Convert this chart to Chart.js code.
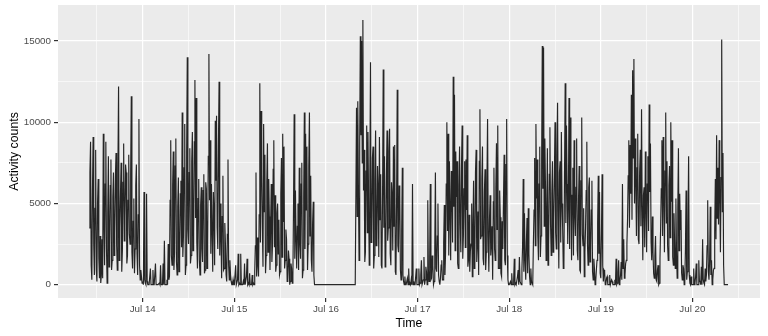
<!DOCTYPE html>
<html>
<head>
<meta charset="utf-8">
<script src="https://cdn.jsdelivr.net/npm/chart.js@4"></script>
<style>
  html, body { margin: 0; padding: 0; background: #fff; }
  #wrap { width: 768px; height: 336px; }
</style>
</head>
<body>
<div id="wrap"><canvas id="activityChart" width="768" height="336"></canvas></div>
<script>
// activity counts, one value every 10 minutes
// Jul 13 starts at 10:00, Jul 20 stops at 09:20
var jul13 = [3500, 6900, 8800, 1200, 300, 5800, 9100, 2400, 600, 4700,
  8300, 900, 200, 5100, 6500, 1600, 400, 3000, 100, 600,
  2800, 400, 9300, 3800, 1200, 6200, 8800, 2200, 100, 4400,
  7900, 1100, 2500, 6100, 7700, 900, 1500, 5400, 6900, 1800,
  3200, 6600, 8100, 2400, 900, 7200, 12200, 1500, 3500, 5600,
  7500, 800, 2100, 6300, 8700, 2700, 4200, 7400, 6900, 1300,
  1800, 5200, 8000, 3100, 2500, 6800, 11600, 2000, 1000, 3900,
  5300, 700, 2200, 6100, 7400, 1900, 600, 4300, 10200, 1200,
  300, 900, 500, 100];
var jul14 = [200, 0, 5700, 300, 100, 0, 5600, 200, 0, 0,
  0, 0, 1000, 0, 0, 0, 900, 0, 0, 0,
  1300, 0, 0, 0, 0, 0, 100, 0, 1200, 0,
  0, 0, 1300, 0, 2700, 0, 0, 0, 300, 0,
  2500, 300, 500, 5200, 8900, 1800, 1200, 6100, 8200, 900,
  2000, 7300, 9000, 1400, 600, 4800, 6600, 800, 1500, 5600,
  6400, 2300, 10600, 1700, 3000, 7200, 9900, 600, 1200, 8100,
  14000, 3400, 2500, 6900, 8400, 1300, 1800, 7600, 9400, 2100,
  3200, 8800, 12600, 4100, 11500, 2600, 1000, 5300, 6500, 1500,
  600, 4900, 6000, 2200, 1400, 5800, 6800, 700, 900, 6300,
  5900, 1000, 2600, 7900, 14200, 5200, 8900, 1900, 6200, 3300,
  800, 5700, 4500, 1200, 10100, 6400, 10400, 3500, 2200, 8700,
  12500, 1800, 5000, 2900, 400, 4200, 6700, 900, 1000, 3800,
  2500, 600, 200, 3100, 7700, 1200, 300, 1500, 600, 200,
  0, 0, 300, 0];
var jul15 = [0, 0, 1200, 0, 0, 300, 1900, 0, 100, 0,
  1900, 0, 0, 0, 200, 0, 1300, 0, 0, 500,
  1600, 0, 100, 0, 700, 0, 0, 0, 600, 0,
  100, 0, 800, 2400, 6900, 500, 2900, 1200, 500, 4300,
  12400, 2600, 10700, 6800, 3500, 1100, 9900, 4500, 8000, 700,
  1800, 6300, 8700, 2000, 6500, 4200, 900, 3700, 6200, 1400,
  2500, 7100, 8900, 2300, 5500, 800, 1200, 4400, 5000, 1900,
  4000, 600, 800, 5600, 7800, 1700, 9300, 3900, 8500, 1000,
  1500, 3400, 2800, 200, 300, 2100, 1600, 0, 200, 1300,
  1000, 100, 500, 4800, 10500, 1600, 5800, 2800, 1000, 3600,
  5000, 900, 7200, 2500, 1600, 6200, 7500, 400, 900, 5400,
  10600, 2200, 9300, 4600, 8500, 900, 2500, 7300, 10600, 3000,
  6700, 1500, 800, 3800, 5100, 600, 0, 0, 0, 0,
  0, 0, 0, 0, 0, 0, 0, 0, 0, 0,
  0, 0, 0, 0];
var jul16 = [0, 0, 0, 0, 0, 0, 0, 0, 0, 0,
  0, 0, 0, 0, 0, 0, 0, 0, 0, 0,
  0, 0, 0, 0, 0, 0, 0, 0, 0, 0,
  0, 0, 0, 0, 0, 0, 0, 0, 0, 0,
  0, 0, 0, 0, 0, 0, 0, 0,
  10900, 4200, 11300, 6000, 1500, 8700, 15300, 9200, 15000, 7500, 16300, 5800,
  8300, 1400, 2000, 7000, 9800, 3200, 9400, 5100, 1200, 6800,
  13700, 2600, 3000, 7800, 8500, 1000, 1800, 6400, 9500, 2400,
  2500, 7300, 6000, 1700, 9100, 4000, 6800, 1200, 1000, 5900,
  13250, 3500, 7900, 1100, 1500, 6600, 9500, 2700, 3500, 8200,
  9600, 1900, 1200, 6300, 5500, 2100, 8500, 3600, 8600, 800,
  600, 5200, 12000, 2400, 2000, 6100, 5500, 900, 300, 3300,
  7200, 600, 200, 0, 500, 0, 0, 0, 400, 0,
  1000, 0, 100, 0, 300, 0, 6200, 0, 200, 0,
  0, 0, 1000, 0];
var jul17 = [0, 0, 1000, 0, 100, 600, 1500, 0, 0, 300,
  1700, 0, 300, 1100, 800, 0, 5200, 900, 200, 1600,
  6200, 300, 400, 1800, 1200, 0, 200, 2200, 6900, 1000,
  800, 3000, 5000, 600, 200, 0, 400, 1200, 1500, 300,
  300, 2600, 4900, 600, 2000, 6200, 10000, 3300, 9300, 1800,
  7600, 4700, 1500, 7000, 5800, 2600, 12800, 4800, 11700, 2100,
  8200, 5400, 7600, 1300, 1000, 6000, 8500, 3800, 2000, 7200,
  9800, 1600, 3000, 5900, 7600, 2300, 7700, 4600, 9200, 1100,
  1500, 4300, 800, 2100, 2500, 5000, 500, 3400, 6400, 1000,
  1800, 6900, 8300, 1400, 2500, 4500, 600, 7600, 10800, 2800,
  3000, 6500, 8500, 1600, 1200, 5700, 7100, 900, 2000, 6300,
  10200, 3100, 800, 4000, 5500, 1800, 2500, 3600, 300, 5100,
  7200, 2200, 1500, 6000, 8700, 3400, 9800, 1000, 1000, 5800,
  4150, 700, 500, 3900, 2200, 5200, 8000, 1500, 1200, 7400,
  10200, 1800, 300, 0];
var jul18 = [0, 0, 200, 0, 700, 0, 0, 300, 1600, 0,
  100, 0, 0, 500, 900, 0, 1700, 200, 200, 0,
  1000, 2300, 6500, 800, 4400, 1500, 300, 2600, 4100, 700,
  4700, 1900, 500, 0, 1000, 200, 100, 0, 2500, 4600,
  7800, 2400, 9900, 5300, 7700, 3000, 1500, 6200, 8500, 1700,
  3000, 7700, 14700, 5900, 14600, 3600, 9000, 6100, 1500, 4400,
  8400, 1200, 2500, 6800, 9700, 3700, 1800, 5600, 7600, 2000,
  4000, 6700, 10000, 3200, 2200, 8000, 11200, 4500, 1000, 6900,
  7600, 2600, 9400, 5000, 3500, 1000, 1200, 7100, 12400, 3800,
  9800, 6200, 2500, 4900, 11500, 2200, 10300, 6600, 1500, 5500,
  7200, 1800, 8900, 4300, 3000, 6000, 9000, 2100, 1500, 5300,
  7300, 900, 800, 6400, 10300, 3100, 2400, 4700, 500, 2000,
  3500, 5800, 8800, 2500, 1200, 6000, 6600, 1400, 2000, 4600,
  6400, 800, 300, 1600, 1000, 0, 200, 900, 1500, 3800,
  6700, 1900, 5700, 700];
var jul19 = [400, 3100, 6800, 1200, 200, 900, 800, 0, 100, 400,
  500, 0, 0, 0, 600, 0, 0, 300, 200, 0,
  0, 0, 300, 0, 1600, 0, 100, 800, 1500, 0,
  200, 600, 1400, 300, 6200, 1000, 2800, 400, 600, 1300,
  1500, 2500, 4000, 6700, 8900, 3500, 8600, 5600, 11700, 4000,
  13200, 7800, 13900, 5000, 9000, 6300, 3000, 7200, 9300, 2800,
  2500, 6900, 8300, 3600, 10800, 4800, 1500, 5500, 6000, 2300,
  8200, 4900, 2000, 6200, 7900, 3300, 11100, 5700, 8700, 2600,
  1500, 4200, 2000, 700, 400, 1800, 3000, 300, 200, 900,
  1200, 0, 100, 1600, 3500, 5900, 8900, 3000, 9100, 5300,
  2000, 7000, 10600, 3800, 7600, 2400, 1500, 6100, 7300, 2900,
  10000, 5100, 8900, 1700, 1200, 4400, 2500, 1000, 5300, 2000,
  400, 4700, 8400, 2100, 5600, 3400, 4600, 700, 300, 1200,
  1000, 0, 200, 2200, 5800, 300, 800, 3600, 7900, 600,
  100, 0, 500, 0];
var jul20 = [0, 0, 1000, 0, 100, 500, 1300, 0, 0, 0,
  1500, 200, 200, 0, 1100, 0, 2800, 300, 100, 0,
  1000, 200, 600, 2400, 5200, 800, 300, 1500, 4800, 600,
  1500, 0, 300, 900, 1000, 3300, 6500, 2800, 9200, 4100,
  7200, 3700, 8900, 5400, 2000, 6600, 15100, 4500, 8100, 1200,
  0, 0, 0, 0, 0, 0, 0];

// axis ticks (hours since Jul 13 00:00)
var dayTicks = [24, 48, 72, 96, 120, 144, 168];
var dayLabels = ['Jul 14', 'Jul 15', 'Jul 16', 'Jul 17', 'Jul 18', 'Jul 19', 'Jul 20'];
var countTicks = [0, 5000, 10000, 15000];

function toPoints(vals, startHour) {
  return vals.map(function (v, i) { return { x: startHour + i / 6, y: v }; });
}
var points = [].concat(
  toPoints(jul13, 10), toPoints(jul14, 24), toPoints(jul15, 48), toPoints(jul16, 72),
  toPoints(jul17, 96), toPoints(jul18, 120), toPoints(jul19, 144), toPoints(jul20, 168)
);

// grey panel behind the grid
var panelBg = {
  id: 'panelBg',
  beforeDraw: function (chart) {
    var a = chart.chartArea, c = chart.ctx;
    c.save();
    c.fillStyle = '#EBEBEB';
    c.fillRect(a.left, a.top, a.right - a.left, a.bottom - a.top);
    c.restore();
  }
};

function isMajorX(v) { return dayTicks.indexOf(v) >= 0; }
function isMajorY(v) { return countTicks.indexOf(v) >= 0; }

var ctx = document.getElementById('activityChart');
var activityChart = new Chart(ctx, {
  type: 'line',
  data: {
    datasets: [{
      data: points,
      borderColor: 'rgba(15,15,15,0.9)',
      borderWidth: 1.15,
      pointRadius: 0,
      tension: 0,
      fill: false
    }]
  },
  options: {
    responsive: false,
    animation: false,
    events: [],
    layout: { padding: { left: 0, right: 8, top: 5, bottom: 0 } },
    plugins: { legend: { display: false }, tooltip: { enabled: false } },
    scales: {
      x: {
        type: 'linear',
        min: 1.8,
        max: 185.7,
        afterBuildTicks: function (axis) {
          var t = [];
          for (var h = 12; h <= 180; h += 12) t.push({ value: h });
          axis.ticks = t;
        },
        afterFit: function (axis) { axis.height = 38; },
        border: { display: false },
        grid: {
          color: '#FFFFFF',
          lineWidth: function (c) { return isMajorX(c.tick.value) ? 1.2 : 0.6; },
          tickColor: function (c) { return isMajorX(c.tick.value) ? '#333333' : 'rgba(0,0,0,0)'; },
          tickLength: 4
        },
        ticks: {
          autoSkip: false,
          maxRotation: 0,
          padding: 1,
          color: '#4D4D4D',
          font: { family: 'Liberation Sans', size: 9.8 },
          callback: function (v) {
            var k = dayTicks.indexOf(v);
            return k >= 0 ? dayLabels[k] : '';
          }
        },
        title: {
          display: true,
          text: 'Time',
          color: '#000',
          font: { family: 'Liberation Sans', size: 12.3 },
          padding: { top: 0, bottom: 5 }
        }
      },
      y: {
        min: -820,
        max: 17220,
        afterBuildTicks: function (axis) {
          var t = [];
          for (var v = 0; v <= 15000; v += 2500) t.push({ value: v });
          axis.ticks = t;
        },
        afterFit: function (axis) {
          axis.width = 58;
          axis.paddingTop = 0;
          axis.paddingBottom = 0;
        },
        border: { display: false },
        grid: {
          color: '#FFFFFF',
          lineWidth: function (c) { return isMajorY(c.tick.value) ? 1.2 : 0.6; },
          tickColor: function (c) { return isMajorY(c.tick.value) ? '#333333' : 'rgba(0,0,0,0)'; },
          tickLength: 4
        },
        ticks: {
          padding: 3,
          color: '#4D4D4D',
          font: { family: 'Liberation Sans', size: 9.8 },
          callback: function (v) { return isMajorY(v) ? String(v) : ''; }
        },
        title: {
          display: true,
          text: 'Activity counts',
          color: '#000',
          font: { family: 'Liberation Sans', size: 12.3 },
          padding: { top: 7, bottom: 0 }
        }
      }
    }
  },
  plugins: [panelBg]
});
</script>
</body>
</html>
